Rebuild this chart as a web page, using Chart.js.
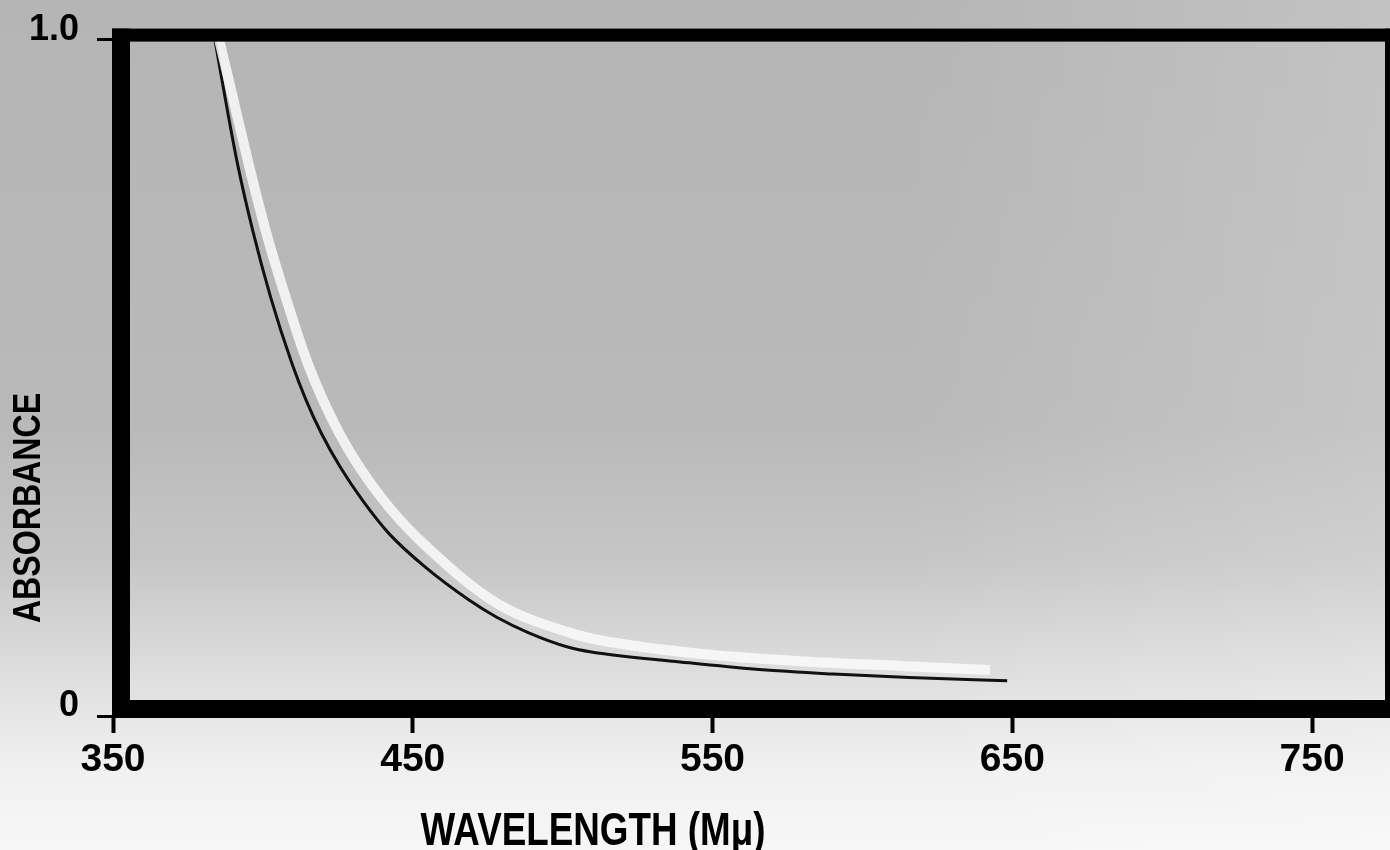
<!DOCTYPE html>
<html>
<head>
<meta charset="utf-8">
<script src="https://cdn.jsdelivr.net/npm/chart.js@4.4.1/dist/chart.umd.min.js"></script>
<style>
html,body{margin:0;padding:0;background:#fff;}
#wrap{width:1390px;height:850px;position:relative;}
</style>
</head>
<body>
<div id="wrap"><canvas id="c" width="1390" height="850"></canvas></div>
<script>
// ---- data ----
const xTicks = [350, 450, 550, 650, 750];
const yTicks = [0, 1];
const yTickLabels = ['0', '1.0'];
const xTitle = 'WAVELENGTH (Mμ)';
const yTitle = 'ABSORBANCE';

// main (black) absorbance curve
const mainWavelength = [384.0, 387.4, 391.5, 396.6, 402.6, 409.7, 414.4, 419.5, 425.8, 433.2, 442.0, 454.2, 468.9, 478.0, 488.7, 501.7, 509.1, 539.2, 564.5, 590.2, 615.6, 648.3];
const mainAbsorbance = [1.0, 0.914, 0.817, 0.718, 0.619, 0.521, 0.467, 0.418, 0.368, 0.319, 0.270, 0.220, 0.171, 0.146, 0.123, 0.102, 0.095, 0.080, 0.069, 0.062, 0.057, 0.052];

// faint second trace (light band beside the black curve)
const traceWavelength = [385.4, 390.0, 395.2, 400.9, 407.6, 415.0, 425.5, 440.2, 462.2, 479.1, 501.7, 512.5, 545.8, 579.2, 612.6, 642.6];
const traceAbsorbance = [1.0, 0.914, 0.817, 0.718, 0.619, 0.521, 0.418, 0.319, 0.220, 0.164, 0.124, 0.112, 0.092, 0.081, 0.074, 0.068];

const FONT = "'Liberation Sans', Arial, sans-serif";

function condensedText(ctx, text, x, y, scaleX) {
  ctx.save();
  ctx.translate(x, y);
  ctx.scale(scaleX, 1);
  ctx.fillText(text, 0, 0);
  ctx.restore();
}

const paperPlugin = {
  id: 'paper',
  beforeDraw(chart) {
    const ctx = chart.ctx, w = chart.width, h = chart.height;
    ctx.save();
    const g = ctx.createLinearGradient(0, 0, 0, h);
    g.addColorStop(0, '#b5b5b5');
    g.addColorStop(0.5, '#b9b9b9');
    g.addColorStop(0.66, '#c6c6c6');
    g.addColorStop(0.76, '#d8d8d8');
    g.addColorStop(0.84, '#e6e6e6');
    g.addColorStop(0.9, '#f0f0f0');
    g.addColorStop(1, '#f7f7f7');
    ctx.fillStyle = g;
    ctx.fillRect(0, 0, w, h);
    const g2 = ctx.createLinearGradient(900, 0, w, 0);
    g2.addColorStop(0, 'rgba(255,255,255,0)');
    g2.addColorStop(1, 'rgba(255,255,255,0.18)');
    ctx.fillStyle = g2;
    ctx.fillRect(0, 0, w, h);
    ctx.restore();
  },
  afterDatasetsDraw(chart) {
    const ctx = chart.ctx, a = chart.chartArea;
    ctx.save();
    ctx.fillStyle = '#000';
    // thick frame around the plot
    ctx.fillRect(a.left - 1, a.top - 11, chart.width - (a.left - 1), 13);      // top
    ctx.fillRect(a.left - 1, a.top - 11, 18, a.bottom - a.top + 13);          // left
    ctx.fillRect(a.left - 1, a.bottom - 16, chart.width - (a.left - 1), 18);  // bottom
    ctx.fillRect(a.right - 2, a.top - 11, 8, a.bottom - a.top + 13);          // right
    // axis titles (condensed bold)
    ctx.fillStyle = '#000';
    ctx.font = 'bold 46px ' + FONT;
    ctx.textAlign = 'center';
    ctx.textBaseline = 'alphabetic';
    condensedText(ctx, xTitle, 593, 845, 0.8);
    ctx.save();
    ctx.translate(29, 508);
    ctx.rotate(-Math.PI / 2);
    ctx.font = 'bold 38px ' + FONT;
    ctx.textBaseline = 'middle';
    ctx.scale(0.845, 1);
    ctx.fillText(yTitle, 0, 1);
    ctx.restore();
    ctx.restore();
  }
};

new Chart(document.getElementById('c'), {
  type: 'line',
  data: {
    datasets: [
      {
        data: traceWavelength.map((x, i) => ({ x: x, y: traceAbsorbance[i] })),
        borderColor: 'rgba(250,250,250,0.85)',
        borderWidth: 10,
        pointRadius: 0,
        cubicInterpolationMode: 'monotone',
        fill: false
      },
      {
        data: mainWavelength.map((x, i) => ({ x: x, y: mainAbsorbance[i] })),
        borderColor: '#111',
        borderWidth: 3,
        pointRadius: 0,
        cubicInterpolationMode: 'monotone',
        fill: false
      }
    ]
  },
  options: {
    responsive: false,
    animation: false,
    devicePixelRatio: 1,
    layout: { padding: { top: 39, right: 3, left: 0, bottom: 0 } },
    plugins: { legend: { display: false }, tooltip: { enabled: false } },
    scales: {
      x: {
        type: 'linear',
        min: 350,
        max: 775,
        afterFit(s) { s.height = 134; },
        afterBuildTicks(s) { s.ticks = xTicks.map(v => ({ value: v })); },
        grid: { drawOnChartArea: false, drawTicks: true, tickLength: 17, tickWidth: 4, tickColor: '#000' },
        border: { display: false },
        ticks: {
          padding: 4,
          color: '#000',
          autoSkip: false,
          maxRotation: 0,
          font: { family: FONT, size: 39, weight: 'bold' },
          callback: (v) => String(v)
        }
      },
      y: {
        type: 'linear',
        min: 0,
        max: 1,
        afterFit(s) { s.width = 113; },
        afterBuildTicks(s) { s.ticks = yTicks.map(v => ({ value: v })); },
        grid: { drawOnChartArea: false, drawTicks: true, tickLength: 16, tickWidth: 3, tickColor: '#000' },
        border: { display: false },
        ticks: {
          padding: 18,
          labelOffset: -10,
          color: '#000',
          autoSkip: false,
          font: { family: FONT, size: 36, weight: 'bold' },
          callback: (v, i) => yTickLabels[i]
        }
      }
    }
  },
  plugins: [paperPlugin]
});
</script>
</body>
</html>
